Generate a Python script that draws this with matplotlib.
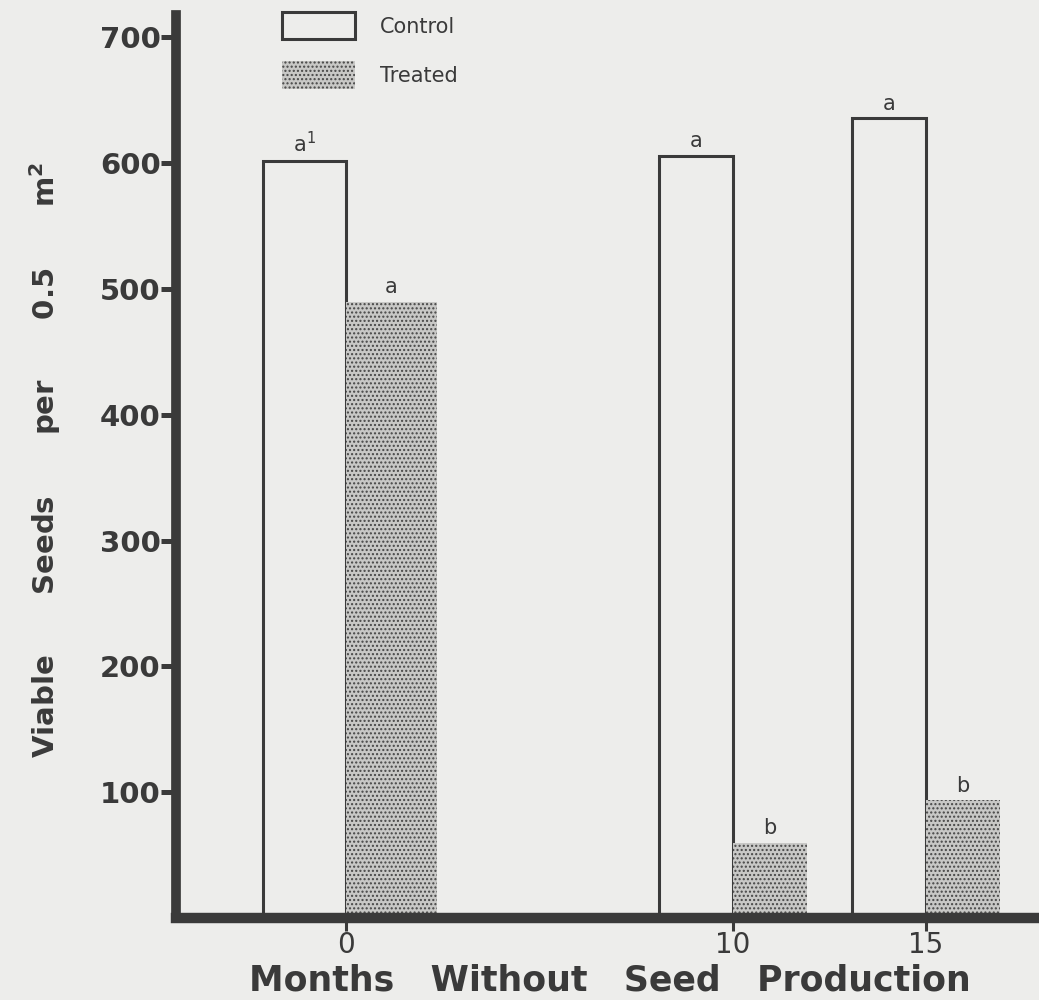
import matplotlib
matplotlib.use("Agg")
import matplotlib.pyplot as plt
from matplotlib.patches import Patch

# ---- data ----
months = [0, 10, 15]
control = [602, 606, 636]
treated = [490, 60, 94]
control_letters = ["a$^{1}$", "a", "a"]
treated_letters = ["a", "b", "b"]
yticks = [100, 200, 300, 400, 500, 600, 700]

# ---- style ----
control_width = [2.15, 1.92, 1.92]
treated_width = [2.35, 1.92, 1.92]
paper = "#ededeb"
ink = "#3a3a3a"
stip_face = "#c8c8c6"
stip_dot = "#464646"

plt.rcParams["mathtext.default"] = "regular"
fig = plt.figure(figsize=(10.39, 10.0), dpi=100, facecolor=paper)
ax = fig.add_axes([176 / 1039, 0.082, 1 - 176 / 1039, 0.903])
ax.set_facecolor(paper)

cb = ax.bar(months, control, width=[-w for w in control_width], align="edge",
            facecolor=paper, edgecolor=ink, linewidth=2.2, zorder=2)
tb = ax.bar(months, treated, width=treated_width, align="edge",
            facecolor=stip_face, edgecolor=stip_dot, linewidth=0,
            hatch="....", zorder=2)

for x, v, w, t in zip(months, control, control_width, control_letters):
    ax.annotate(t, (x - w / 2, v), xytext=(0, 3), textcoords="offset points",
                ha="center", va="bottom", fontsize=15, color=ink)
for x, v, w, t in zip(months, treated, treated_width, treated_letters):
    ax.annotate(t, (x + w / 2, v), xytext=(0, 3), textcoords="offset points",
                ha="center", va="bottom", fontsize=15, color=ink)

ax.set_xlim(-4.40, 17.92)
ax.set_ylim(0, 717.8)

for s in ["top", "right"]:
    ax.spines[s].set_visible(False)
ax.spines["left"].set_linewidth(7)
ax.spines["bottom"].set_linewidth(7.5)
for s in ["left", "bottom"]:
    ax.spines[s].set_color(ink)
    ax.spines[s].set_capstyle("projecting")
    ax.spines[s].set_zorder(3)

ax.set_yticks(yticks)
ax.set_yticklabels([str(v) for v in yticks])
ax.tick_params(axis="y", direction="out", length=11, width=3.6, color=ink,
               pad=0, labelsize=21, labelcolor=ink)
for lab in ax.get_yticklabels():
    lab.set_fontweight("bold")

ax.set_xticks(months)
ax.set_xticklabels([str(m) for m in months])
ax.tick_params(axis="x", direction="out", length=9.5, width=2.2, color=ink,
               pad=0, labelsize=20, labelcolor=ink)

ax.set_ylabel("Viable      Seeds      per      0.5      m$^{\\mathbf{2}}$",
              fontsize=21, fontweight="bold", color=ink, va="center")
ax.yaxis.set_label_coords(-0.152, 0.507)
ax.set_xlabel("Months   Without   Seed   Production", fontsize=25,
              fontweight="bold", color=ink, va="center")
ax.xaxis.set_label_coords(0.503, -0.069)

handles = [Patch(facecolor=paper, edgecolor=ink, linewidth=2.2, label="Control"),
           Patch(facecolor=stip_face, edgecolor=stip_dot, linewidth=0,
                 hatch="....", label="Treated")]
leg = fig.legend(handles=handles, loc="upper left",
                 bbox_to_anchor=(282 / 1039, 1 - 12 / 1000),
                 frameon=False, fontsize=15, handlelength=3.5, handleheight=1.65,
                 labelspacing=1.05, handletextpad=1.2, borderpad=0,
                 borderaxespad=0, labelcolor=ink)

fig.savefig("out.png", dpi=100, facecolor=paper)
